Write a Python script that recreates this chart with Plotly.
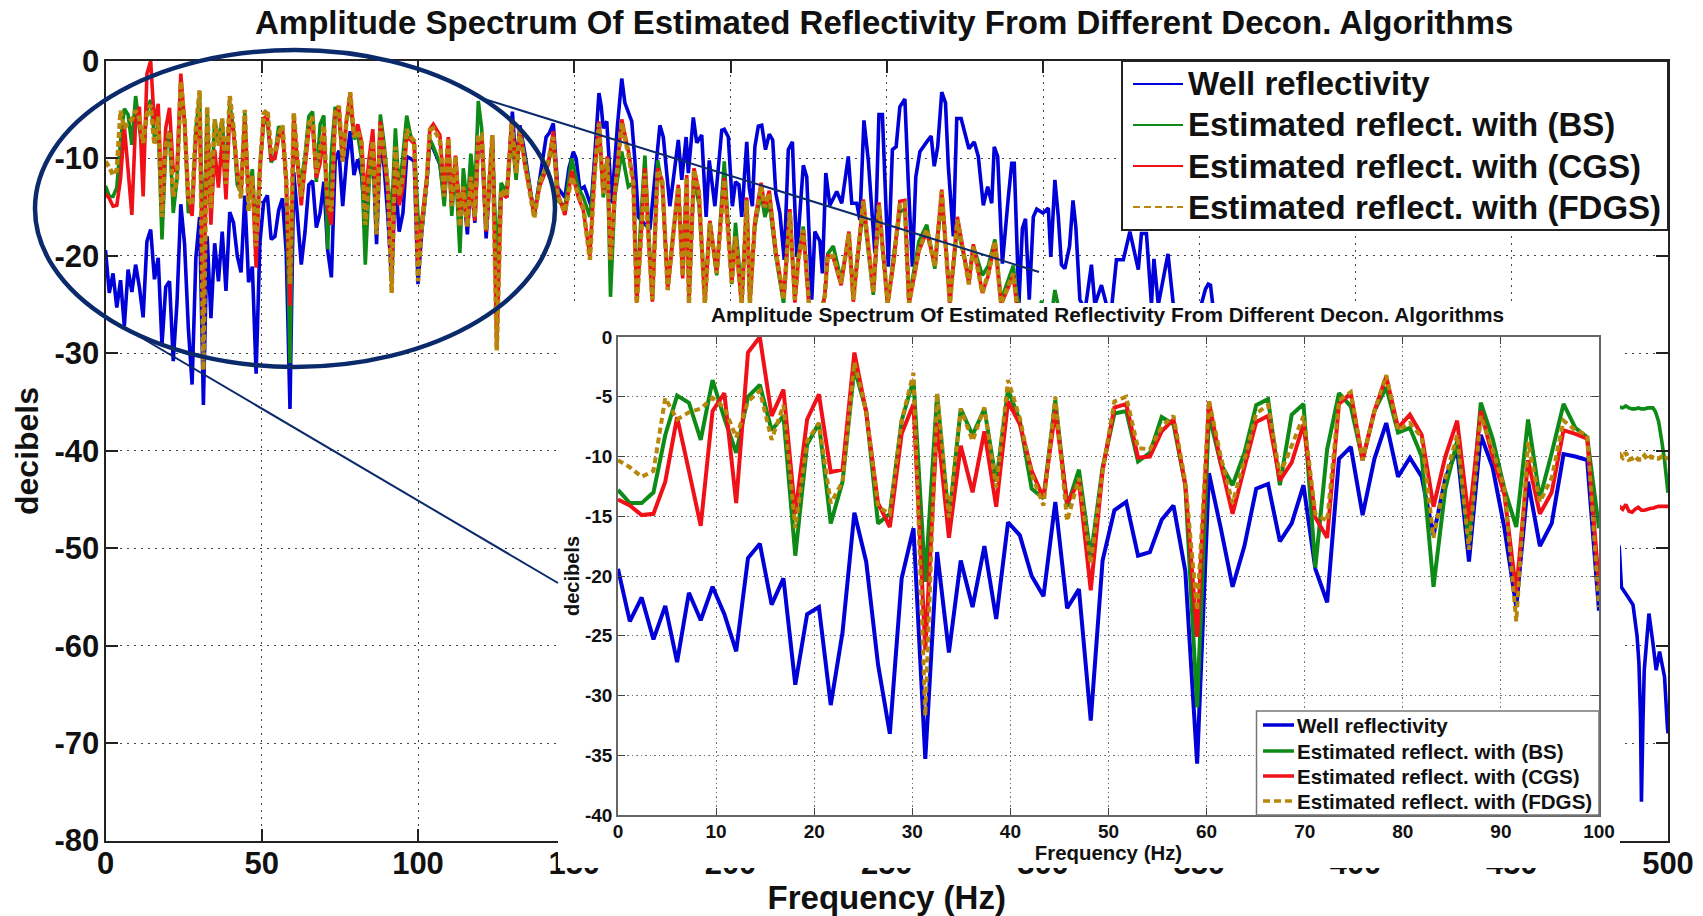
import plotly.graph_objects as go

W, H = 1703, 916
BIN_HZ = 1.2048

TITLE = "Amplitude Spectrum Of Estimated Reflectivity From Different Decon. Algorithms"
NAMES = ["Well reflectivity", "Estimated reflect. with (BS)",
         "Estimated reflect. with (CGS)", "Estimated reflect. with (FDGS)"]
COLORS = ["#0000D8", "#0E8A16", "#F01018", "#B8860B"]
MAIN_X_TICKS = [0, 50, 100, 150, 200, 250, 300, 350, 400, 450, 500]
MAIN_Y_TICKS = [0, -10, -20, -30, -40, -50, -60, -70, -80]
MAIN_Y_LABELS = ["0", "-10", "-20", "-30", "-40", "-50", "-60", "-70", "-80"]
INSET_X_TICKS = [0, 10, 20, 30, 40, 50, 60, 70, 80, 90, 100]
INSET_Y_TICKS = [0, -5, -10, -15, -20, -25, -30, -35, -40]
INSET_Y_LABELS = ["0", "-5", "-10", "-15", "-20", "-25", "-30", "-35", "-40"]

# first 100 Hz: one value per frequency bin
well_low = [-19.4, -23.8, -21.8, -25.3, -22.5, -27.2, -21.4, -23.7, -20.9, -23.2,
            -26.3, -18.5, -17.3, -22.4, -20.2, -29.1, -23.2, -22.6, -30.8, -24.7,
            -14.7, -18.8, -27.4, -33.2, -20.2, -16.0, -35.3, -18.0, -26.4, -18.7,
            -22.6, -17.5, -23.6, -15.5, -16.6, -20.0, -21.7, -13.8, -22.7, -21.1,
            -32.1, -18.7, -14.5, -13.8, -18.3, -18.0, -15.3, -14.1, -19.6, -35.7,
            -11.4, -16.0, -20.9, -17.5, -12.7, -12.3, -17.1, -15.6, -12.4, -19.4,
            -22.2, -10.2, -9.2, -14.9, -10.2, -7.2, -11.7, -10.1, -11.7, -16.6,
            -11.8, -9.4, -18.8, -8.2, -10.9, -16.0, -22.6, -12.1, -17.5, -15.6,
            -9.8, -10.0, -10.3, -22.9]
bs_low = [-12.8, -13.9, -13.9, -13.0, -8.2, -4.9, -5.5, -8.6, -3.6, -6.8,
          -9.7, -5.0, -4.0, -7.8, -6.6, -18.3, -9.0, -7.2, -15.6, -12.1,
          -2.6, -6.2, -15.6, -14.8, -7.0, -3.6, -20.5, -4.8, -15.4, -6.0,
          -8.2, -6.0, -12.1, -4.4, -7.0, -12.7, -13.5, -5.3, -14.2, -11.1,
          -18.4, -10.9, -6.4, -6.2, -10.4, -9.7, -6.7, -7.3, -12.4, -31.0,
          -6.5, -10.6, -12.4, -9.7, -5.7, -5.2, -12.4, -6.5, -5.6, -19.3,
          -9.4, -4.7, -5.8, -10.3, -6.2, -4.2, -8.0, -7.6, -10.0, -20.9,
          -12.7, -8.7, -17.2, -5.5, -8.5, -12.7, -15.9, -6.9, -13.5, -9.7,
          -5.6, -7.6, -8.4, -16.0]
cgs_low = [-13.6, -14.1, -14.9, -14.8, -12.1, -6.7, -11.2, -15.8, -6.2, -4.7,
           -13.9, -1.3, 0.0, -6.6, -4.4, -14.8, -6.9, -4.8, -11.3, -11.1,
           -1.3, -6.3, -13.9, -15.9, -8.1, -5.6, -26.2, -7.2, -16.8, -9.1,
           -13.0, -7.9, -14.2, -5.4, -7.3, -11.2, -13.5, -6.2, -13.9, -12.1,
           -21.2, -11.2, -5.9, -5.6, -10.1, -10.0, -7.9, -6.9, -12.4, -25.1,
           -5.4, -10.6, -14.8, -10.9, -7.1, -6.6, -12.0, -10.5, -7.3, -15.1,
           -16.8, -5.6, -4.7, -10.3, -6.2, -3.3, -7.6, -6.5, -8.2, -14.2,
           -10.0, -7.0, -15.4, -6.2, -10.0, -13.2, -21.4, -10.3, -14.8, -13.0,
           -7.8, -8.1, -8.5, -20.8]
fdgs_low = [-10.3, -10.9, -11.7, -11.2, -5.1, -6.9, -6.3, -6.0, -5.1, -5.9,
            -8.4, -5.4, -4.5, -8.6, -5.7, -16.0, -8.7, -7.2, -13.9, -12.1,
            -2.1, -6.2, -14.2, -14.8, -7.0, -3.0, -31.7, -4.7, -15.1, -6.0,
            -8.7, -5.9, -12.6, -3.6, -6.8, -11.5, -14.1, -5.0, -15.4, -11.8,
            -19.0, -11.2, -5.4, -5.0, -9.3, -9.4, -7.5, -6.6, -12.1, -22.9,
            -5.3, -10.0, -13.9, -10.3, -6.4, -5.7, -11.5, -9.1, -6.6, -14.8,
            -15.4, -5.3, -4.6, -10.3, -6.2, -3.2, -7.8, -7.2, -8.4, -16.8,
            -11.8, -8.2, -17.8, -6.6, -9.4, -12.7, -23.8, -8.8, -13.8, -11.8,
            -7.0, -7.8, -8.2, -22.6]

# above 100 Hz: turning points
est_hi_hz = [101.2, 102.8, 103.8, 104.9, 107, 108.4, 109.7, 110.8, 112, 113.4,
             114.5, 115.8, 116.9, 118.2, 119.3, 120.4, 121.8, 123.8, 125.2, 126.6,
             128.4, 130, 131.4, 132.6, 134.2, 137.2, 139, 141.7, 143.3, 144.7,
             147, 149.2, 151.3, 152.9, 155, 156.6, 157.9, 159.3, 160.6, 161.6,
             163, 165.2, 167.3, 168.9, 170, 171, 172.6, 173.9, 175, 176.7,
             178.2, 179.9, 181.7, 183.3, 184.7, 186, 186.7, 188.3, 189.9, 191.8,
             193.4, 195.6, 198, 200.4, 201.6, 203.6, 205.2, 206.2, 207.8, 209.8,
             211, 212.4, 214.5, 217, 219, 220.6, 221.7, 223.3, 225.1, 228,
             230.2, 231.1, 232.9, 235.4, 237.9, 239.3, 242.5, 245.7, 247.5, 250.3,
             252.4, 254.2, 255.8, 257.1, 260.3, 262.8, 265.4, 267.6, 270.2, 272.6,
             274.7, 276.3, 277.7, 280.6, 282.5, 284.6, 286.6, 290.5, 291.6, 295,
             299.6, 301.5, 303.8, 310, 360, 420, 478,
             484.4, 485.5, 486.5, 487.5, 488.5, 489.5, 490.5, 491.5, 492.5, 493.5,
             494.5, 495.2, 496, 497, 498, 498.9, 500]
fdgs_hi = [-17, -12.2, -7.1, -6.9, -8.1, -13.9, -7.9, -14.9, -9.8, -17,
           -12.9, -17, -11.9, -16, -7.8, -7.6, -17.3, -7.6, -29.7, -13.2,
           -13.9, -6.4, -11.5, -7.2, -10.5, -16.1, -12.5, -10.2, -7.8, -13.9,
           -15.5, -11.9, -13.6, -15, -20.4, -11.2, -6.4, -13.6, -10, -20.4,
           -13.6, -6.4, -9.5, -12.5, -24.9, -20, -11.5, -19, -24.5, -11.2,
           -12.5, -23.5, -17.7, -12.9, -22.1, -11.9, -24.9, -11.2, -13.6, -24.9,
           -16.6, -21.8, -12.2, -22.8, -18, -24.9, -14.3, -24.9, -16.6, -12.9,
           -15, -13.6, -19.7, -24.5, -15.5, -24.5, -20.4, -17.3, -24.9, -28,
           -24, -20, -20, -22.8, -17.7, -24.5, -14.4, -23.8, -14.8, -24.9,
           -20, -14.8, -14.6, -24.9, -19.4, -17.3, -21.1, -13.4, -24.9, -16.3,
           -20, -22.9, -19, -23.8, -21.8, -18.5, -24.9, -21.8, -24.9, -30,
           -26, -30, -26, -34, -38, -40, -40.5,
           -40.3, -40.7, -40.2, -40.9, -40.8, -40.6, -40.9, -40.9, -40.5, -40.9,
           -40.6, -40.7, -40.8, -40.8, -40.6, -40.8, -40.7]
bs_hi = [-17.5, -12.5, -8, -8.8, -10.5, -14.9, -8.5, -15.9, -10.5, -19.7,
         -11, -15, -9.5, -13.5, -4.1, -7, -17, -8, -21, -12.5,
         -13.5, -7.5, -12.2, -7.2, -10, -15.8, -12.2, -10.5, -8.2, -14.3,
         -15, -10, -13, -14, -16, -11.2, -6.4, -14, -10, -24.2,
         -13.8, -9.3, -12.9, -12.5, -24.5, -18, -9.7, -18, -24.5, -10.2,
         -13, -23, -17.5, -13, -21.5, -12.5, -24, -12, -14.7, -24,
         -16.5, -22, -10.3, -22.9, -16.6, -24.2, -15, -24.5, -17, -13.5,
         -16, -14.5, -20, -24.9, -15.5, -24.5, -20, -17, -24.9, -27,
         -24, -19.8, -19, -22.5, -18, -24, -15, -24, -15.2, -25,
         -19.5, -15.5, -15.2, -24.5, -18.5, -16.8, -21.3, -13.8, -24.5, -17,
         -20, -22.5, -19, -22, -21, -18.3, -24.5, -21, -24, -29,
         -24.6, -29, -23.5, -33, -36.5, -37, -36,
         -35.5, -35.6, -35.4, -35.6, -35.7, -35.7, -35.6, -35.7, -35.7, -35.6,
         -35.6, -35.6, -36, -37, -39, -41, -44.3]
cgs_hi = [-16.5, -12, -7, -6.5, -7.6, -13.5, -7.8, -14.5, -9.7, -15.8,
          -13, -17, -11.9, -16.4, -8.2, -7.8, -17.5, -7.6, -29.5, -13.5,
          -14, -6, -11.2, -7, -10.7, -15.7, -12.8, -10.6, -7.2, -13.5,
          -15.8, -11.3, -14, -15.3, -20, -11, -6.2, -13.4, -9.8, -20.2,
          -13.5, -6, -9.2, -12.3, -24.8, -20, -11, -19, -24.7, -11,
          -12.3, -23.5, -17.9, -12.7, -22.3, -11.7, -25, -11, -13.4, -25,
          -16.4, -21.6, -12, -22.6, -18.2, -25.2, -14, -25, -16.4, -12.5,
          -15, -13.3, -19.5, -24.3, -15.2, -24.8, -20.5, -17.5, -25, -28,
          -24, -20, -20.2, -23, -17.5, -24.7, -14.2, -23.5, -14.5, -25,
          -20.2, -14.4, -14.3, -25, -19.5, -17.5, -21, -13.2, -25, -16,
          -19.8, -22.9, -18.8, -23.8, -22, -18.7, -25, -22, -25, -30,
          -26.5, -30, -27, -34, -39, -43, -45.5,
          -45.7, -46, -45.5, -46.2, -46.3, -46, -45.8, -46.1, -46.1, -46,
          -45.9, -45.9, -45.8, -45.7, -45.7, -45.7, -45.7]

well_hi_hz = [101.2, 102.8, 103.8, 104.9, 107, 108.4, 109.7, 110.8, 112, 113.4,
              114.5, 115.8, 116.9, 118.2, 119.3, 120.4, 121.8, 123.8, 125.2, 126.6,
              128.4, 130.2, 131.4, 132.6, 134.2, 137.2, 139, 141, 142, 143.3,
              144.7, 147, 148.3, 149.7, 150.6, 151.8, 153.2, 155.4, 156.6, 157.9,
              158.6, 159.3, 160.4, 162, 163.8, 165.2, 166.2, 168.4, 169.4, 170.5,
              174.2, 177.4, 178.5, 180.6, 183.3, 184.4, 185.8, 186.5, 188.1, 189.2,
              190.8, 192.2, 193.2, 195, 197.2, 198, 199.3, 200.6, 201.6, 202.7,
              203.6, 205.2, 206, 207, 207.8, 208.9, 210, 211.2, 212.4, 213.5,
              214.5, 215.8, 217.2, 218.5, 219.8, 221.2, 223.3, 224.4, 226, 227,
              228.6, 229.4, 230.5, 231.8, 234, 235.6, 237.7, 238.8, 240.4, 241.4,
              242.7, 244.1, 246.2, 247.5, 248.6, 250.5, 251.8, 253, 254.2, 255.8,
              256.9, 258.2, 259.3, 260.6, 262.8, 264.2, 265.2, 266.3, 267.6, 268.8,
              269.7, 271.3, 272.4, 273.8, 276.3, 278, 279.3, 280.9, 282.3, 283.6,
              284.4, 285.5, 287, 288.9, 290, 290.8, 292.3, 293.4, 294.4, 295.6,
              296.9, 298, 300, 301.7, 302.5, 303.8, 304.9, 305.9, 307, 308.5,
              309.6, 310.5, 311.8, 313.5, 315.5, 316.6, 318.7, 320.3, 321.9, 323.5,
              325.7, 327.8, 330.5, 331.5, 333.1, 334.7, 335.5, 336.9, 340, 341.7,
              345, 350.2, 352, 352.9, 353.6, 354.5, 360, 420, 478,
              484.4, 485.1, 487.2, 488.8, 490.1, 490.7, 491.2, 491.5, 492, 492.4,
              493.9, 495.2, 496.2, 497.3, 498.9, 499.8, 500]
well_hi = [-17.5, -12.5, -8.2, -9, -10.6, -14, -8.5, -15, -10, -16.2,
           -13, -17.8, -12.2, -16.6, -8, -8.2, -18.2, -8, -24, -13.5,
           -14, -5.2, -10.8, -6.6, -9.5, -15.9, -12, -7.8, -7.4, -6.4,
           -13, -14, -11, -9.3, -10, -13.2, -12.9, -14.9, -9.5, -3.3,
           -4.6, -6.9, -6.2, -14.6, -6.7, -1.8, -4.3, -6.2, -10.2, -16,
           -17.3, -6.6, -7.8, -14.9, -8.1, -12.2, -7.8, -11.5, -5.8, -8.4,
           -7.6, -16, -10.2, -14.9, -7.1, -7, -7.8, -14.9, -12.4, -12.7,
           -16, -8.3, -13, -14.9, -8.8, -6.7, -6.6, -9.1, -7.5, -8.1,
           -13.6, -15.6, -20.4, -9.1, -8.3, -20.1, -10.7, -11.9, -24.5, -17.5,
           -18.5, -21.8, -11.5, -14.8, -13.4, -14.6, -9.8, -14.6, -14.6, -16.3,
           -6.1, -10.2, -19.7, -5.5, -5.5, -21.1, -9.1, -8.8, -4.7, -3.9,
           -12.5, -21.1, -11.9, -9.3, -8.3, -7.7, -10.8, -8.8, -3.2, -4.3,
           -10.8, -18, -5.9, -5.9, -9, -8.3, -9.8, -14.8, -12.9, -14.6,
           -8.8, -9.8, -20.8, -14, -10.5, -10.5, -24.9, -17.2, -16.2, -24.5,
           -16, -15.2, -15.6, -15.1, -20.1, -12.2, -16, -20.9, -21.3, -19,
           -14.3, -17, -24.5, -25.5, -20.9, -25, -23, -25, -25.5, -20.4,
           -20.4, -17.5, -21.4, -17.7, -17.7, -25, -20.3, -25, -19.8, -25,
           -27, -25.5, -23.4, -22.9, -23, -25.5, -33, -40, -44,
           -49.9, -54, -55, -55.8, -59, -61.8, -67.2, -76, -67.6, -62.5,
           -56.7, -59.8, -62.5, -60.6, -63.2, -68.3, -69]

for a, b in [(est_hi_hz, fdgs_hi), (est_hi_hz, bs_hi), (est_hi_hz, cgs_hi), (well_hi_hz, well_hi)]:
    assert len(a) == len(b), (len(a), len(b))

low_hz = [i * BIN_HZ for i in range(len(well_low))]
inset_series = [well_low, bs_low, cgs_low, fdgs_low]
main_series = [(low_hz + well_hi_hz, well_low + well_hi),
               (low_hz + est_hi_hz, bs_low + bs_hi),
               (low_hz + est_hi_hz, cgs_low + cgs_hi),
               (low_hz + est_hi_hz, fdgs_low + fdgs_hi)]


def px(x):
    return x / W


def py(y):
    return 1 - y / H


FONT = "Liberation Sans, Arial, sans-serif"
INK = "#111"
NAVY = "#0B2A6B"


def txt(size):
    return dict(family=FONT, size=size, color=INK, weight="bold")


def is_dashed(name):
    return name.endswith("(FDGS)")


fig = go.Figure()

for name, color, (xs, ys) in zip(NAMES, COLORS, main_series):
    dash = "6px,3px" if is_dashed(name) else "solid"
    width = 4.5 if is_dashed(name) else 3.6
    fig.add_trace(go.Scatter(x=xs, y=ys, name=name, mode="lines", xaxis="x", yaxis="y",
                             line=dict(color=color, width=width, dash=dash, simplify=False),
                             showlegend=False, hoverinfo="skip"))

# white sheet the enlarged panel sits on
fig.add_trace(go.Scatter(x=[0, 1, 1, 0, 0], y=[0, 0, 1, 1, 0], mode="lines", fill="toself",
                         fillcolor="white", line=dict(width=0, color="white"), xaxis="x2", yaxis="y2",
                         showlegend=False, hoverinfo="skip"))

for name, color, ys in zip(NAMES, COLORS, inset_series):
    dash = "6px,4px" if is_dashed(name) else "solid"
    fig.add_trace(go.Scatter(x=low_hz, y=ys, name=name, mode="lines", xaxis="x3", yaxis="y3",
                             line=dict(color=color, width=4, dash=dash, simplify=False),
                             showlegend=False, hoverinfo="skip"))

shapes = [
    dict(type="circle", xref="paper", yref="paper", x0=px(35), x1=px(555), y0=py(367), y1=py(50),
         line=dict(color=NAVY, width=4.5), layer="above"),
    dict(type="line", xref="paper", yref="paper", x0=px(481), y0=py(98), x1=px(1039), y1=py(272),
         line=dict(color=NAVY, width=2), layer="above"),
    dict(type="line", xref="paper", yref="paper", x0=px(130), y0=py(331), x1=px(558), y1=py(583),
         line=dict(color=NAVY, width=2), layer="above"),
]
annotations = [
    dict(text=TITLE, xref="paper", yref="paper", x=px(884), y=py(23), xanchor="center", yanchor="middle",
         showarrow=False, font=txt(33)),
    dict(text=TITLE, xref="paper", yref="paper", x=px(1107), y=py(314), xanchor="center", yanchor="middle",
         showarrow=False, font=txt(20.8)),
    dict(text="decibels", xref="paper", yref="paper", x=px(27), y=py(451), xanchor="center", yanchor="middle",
         textangle=-90, showarrow=False, font=txt(32)),
]


def add_key_box(box, rows, key_x, text_x, font_size, key_width, edge, edge_width):
    shapes.append(dict(type="rect", xref="paper", yref="paper", x0=px(box[0]), x1=px(box[1]),
                       y0=py(box[3]), y1=py(box[2]), fillcolor="white",
                       line=dict(color=edge, width=edge_width), layer="above"))
    for name, color, row in zip(NAMES, COLORS, rows):
        shapes.append(dict(type="line", xref="paper", yref="paper", x0=px(key_x[0]), x1=px(key_x[1]),
                           y0=py(row), y1=py(row), layer="above",
                           line=dict(color=color, width=key_width,
                                     dash="7px,4px" if is_dashed(name) else "solid")))
        annotations.append(dict(text=name, xref="paper", yref="paper", x=px(text_x), y=py(row),
                                xanchor="left", yanchor="middle", showarrow=False, font=txt(font_size)))


add_key_box((1122, 1668, 61, 230), (84, 125, 166, 207), (1133, 1183), 1186, 33, 2.2, "#222", 2)
add_key_box((1256.5, 1599, 711, 815), (725, 751, 776, 801), (1263, 1294), 1295, 20.6, 3.5, "#777", 1.5)

fig.update_layout(
    width=W, height=H, margin=dict(l=0, r=0, t=0, b=0),
    paper_bgcolor="white", plot_bgcolor="white", showlegend=False,
    xaxis=dict(domain=[px(105.5), px(1668)], range=[0, 500], anchor="y", tickvals=MAIN_X_TICKS,
               showline=True, linecolor="#222", linewidth=2, mirror="ticks", ticks="inside", ticklen=12,
               tickcolor="#222", tickwidth=1.5, showgrid=True, gridcolor="#444", griddash="2px,5px",
               gridwidth=1.2, zeroline=False, tickfont=txt(31), automargin=False, ticklabelstandoff=-6,
               title=dict(text="Frequency (Hz)", standoff=20, font=txt(33))),
    yaxis=dict(domain=[py(840.6), py(61)], range=[-80, 0], anchor="x", tickvals=MAIN_Y_TICKS,
               ticktext=MAIN_Y_LABELS,
               showline=True, linecolor="#222", linewidth=2, mirror="ticks", ticks="inside", ticklen=12,
               tickcolor="#222", tickwidth=1.5, showgrid=True, gridcolor="#444", griddash="2px,5px",
               gridwidth=1.2, zeroline=False, tickfont=txt(31), automargin=False, ticklabelstandoff=-2),
    xaxis2=dict(domain=[px(558), px(1620)], range=[0, 1], anchor="y2", visible=False),
    yaxis2=dict(domain=[py(868), py(303)], range=[0, 1], anchor="x2", visible=False),
    xaxis3=dict(domain=[px(618), px(1599)], range=[0, 100], anchor="y3", tickvals=INSET_X_TICKS,
                showline=True, linecolor="#666", linewidth=1.5, mirror="ticks", ticks="inside", ticklen=7,
                tickcolor="#444", showgrid=True, gridcolor="#777", griddash="1.5px,3px", gridwidth=1,
                zeroline=False, tickfont=txt(19), automargin=False, ticklabelstandoff=-2,
                title=dict(text="Frequency (Hz)", standoff=1, font=txt(20.4))),
    yaxis3=dict(domain=[py(815), py(337)], range=[-40, 0], anchor="x3", tickvals=INSET_Y_TICKS,
                ticktext=INSET_Y_LABELS,
                showline=True, linecolor="#666", linewidth=1.5, mirror="ticks", ticks="inside", ticklen=7,
                tickcolor="#444", showgrid=True, gridcolor="#777", griddash="1.5px,3px", gridwidth=1,
                zeroline=False, tickfont=txt(19), automargin=False,
                title=dict(text="decibels", standoff=0, font=txt(20))),
    annotations=annotations,
    shapes=shapes,
)

fig.write_html("out.html", config=dict(displayModeBar=False),
               post_script="document.body.style.margin='0';document.documentElement.style.overflow='hidden';")
